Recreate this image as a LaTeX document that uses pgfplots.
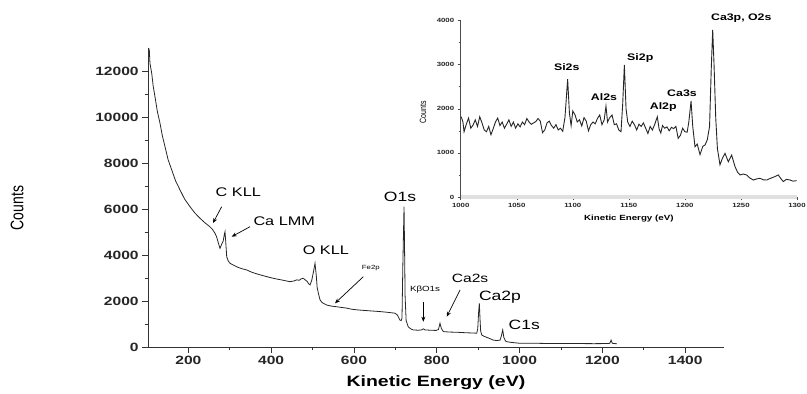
\documentclass[border=0pt]{standalone}
\usepackage{pgfplots}
\pgfplotsset{compat=1.18}
\usepackage{fontspec}
\setmainfont{Liberation Sans}[FakeStretch=1.3]
\newfontfamily\plainfont{Liberation Sans}
\usetikzlibrary{arrows.meta}

\pgfplotstableread{
x y
104 13000
105.7 12900
107.3 12330
111.5 11900
115 11350
119.4 10880
125 10250
131.5 9730
137 9200
143.6 8710
151 8150
159.8 7700
169 7230
179.8 6830
191 6430
204 6100
216 5820
228 5600
240 5400
252 5230
258 5120
264.4 4940
268 4800
272 4550
276.4 4290
280 4450
284 4600
287 4900
288.5 5010
290 4650
292.6 3930
296 3750
300.6 3640
310 3550
320 3460
330 3400
340.9 3350
352 3260
365 3180
377 3120
389 3060
400 3010
412 2960
424 2920
435 2880
445 2840
455 2870
462 2920
468 2900
472 2960
477.6 2990
482 2920
487 2850
490 2760
494 2700
498 2900
502 3250
505.9 3640
509 3100
511 2600
514 2340
518 2050
522 1950
526 1900
535 1820
545 1780
558 1750
570 1720
582.5 1690
595 1640
610 1610
625 1590
640 1570
663 1540
680 1510
699 1470
705 1390
711 1170
714 1150
716 1250
718 3500
720.9 6100
722 4600
723.5 2200
726 1150
731 880
737 790
743 740
755 730
763 740
767.5 790
772 740
785 730
798 720
804 760
807.8 1030
811 810
816 670
830 650
850 640
870 620
885 610
896.5 600
899 800
901 1500
902.8 1900
904.5 1200
906 700
908.6 520
915 460
925 390
936.6 300
945 280
953 300
956 480
959.3 740
962 420
966 260
969 230
980 200
1001 160
1030 165
1060 155
1100 150
1140 150
1180 145
1210 150
1218 160
1221 300
1224 160
1235 140
}\mainspec

\pgfplotstableread{
x y
1000.5 1820
1002 1700
1003 1480
1005 1650
1007 1790
1009 1560
1011 1630
1013 1750
1015 1600
1017 1820
1019 1680
1021 1520
1023 1480
1025 1600
1027 1410
1029 1550
1031 1700
1033 1790
1035 1620
1037 1700
1039 1560
1041 1650
1043 1750
1045 1600
1047 1700
1049 1560
1051 1660
1053 1590
1055 1700
1057 1640
1059 1780
1061 1700
1063 1650
1065 1680
1067 1710
1069 1780
1071 1720
1073 1460
1075 1520
1077 1680
1079 1720
1081 1620
1083 1560
1085 1640
1087 1520
1089 1560
1091 1490
1093 1800
1095.4 2670
1097 1900
1098.5 1620
1100 1950
1102 1860
1104 1700
1106 1750
1108 1610
1110 1800
1112 1720
1114 1500
1116 1640
1118 1700
1120 1660
1122 1780
1124 1860
1126 1640
1128 1750
1129.6 2060
1131 1700
1133 1800
1135 1860
1137 1640
1139 1660
1141 1520
1143 1480
1144.5 2100
1146 2994
1147.5 2000
1149 1700
1151 1600
1153 1720
1155 1640
1157 1520
1159 1650
1161 1600
1163 1680
1165 1560
1167 1440
1169 1600
1171 1520
1173 1640
1175.4 1820
1177 1540
1178.5 1450
1180 1620
1182 1560
1184 1590
1186 1500
1188 1580
1190 1550
1192 1600
1194 1330
1196 1400
1198 1560
1200 1480
1202 1470
1203.5 1700
1205.5 2177
1207 1600
1209 1140
1211 1200
1213.5 960
1216 1150
1218 1180
1220 1300
1222 1600
1223.5 2900
1224.8 3788
1226 3000
1227.5 1800
1229 1100
1231.3 730
1233.5 880
1235.8 990
1238.7 800
1241.7 950
1244.7 690
1247 560
1249.2 500
1252 520
1255.1 500
1258 430
1261 385
1264 410
1267 424
1270 390
1273 385
1276 420
1280 460
1283.3 500
1285.5 420
1287.8 350
1290.5 400
1293.8 385
1296.5 360
1299.7 370
}\insetspec

\begin{document}
\begin{tikzpicture}
\path[use as bounding box] (0pt,0pt) rectangle (807pt,394pt);
% main axis
\begin{axis}[
  at={(148.2pt,47pt)}, anchor=south west, scale only axis,
  width=575.5pt, height=299pt,
  xmin=103, xmax=1493, ymin=0, ymax=13000,
  axis lines=left,
  axis line style={-, line width=0.9pt, black!80},
  xtick={200,400,...,1400}, ytick={0,2000,...,12000},
  minor x tick num=1, minor y tick num=1,
  tick align=outside, major tick length=6pt, minor tick length=3.5pt,
  every tick/.style={line width=0.8pt, black!80},
  scaled y ticks=false,
  /pgf/number format/assume math mode=true,
  /pgf/number format/1000 sep={},
  tick label style={font=\bfseries\fontsize{12}{12}\selectfont, black!85},
  xlabel={Kinetic Energy (eV)},
  xlabel style={font=\bfseries\fontsize{15}{15}\selectfont, at={(axis description cs:0.5,0)}, anchor=center, yshift=-36pt},
  ylabel={\scalebox{1}[1.3]{Counts}},
  ylabel style={font=\plainfont\fontsize{14}{14}\selectfont, at={(axis description cs:-0.2276,0.465)}, anchor=center},
  clip=false,
]
\addplot[black!85, line width=0.8pt] table[x=x,y=y] {\mainspec};
\node[font=\fontsize{12.5}{12.5}\selectfont] at (axis cs:320.6,6717) {C KLL};
\draw[-{Stealth[length=5pt,width=4pt]}, line width=0.7pt] (axis cs:280.5,6100) -- (axis cs:259.5,5391);
\node[font=\fontsize{12.5}{12.5}\selectfont] at (axis cs:431.5,5448) {Ca LMM};
\draw[-{Stealth[length=5pt,width=4pt]}, line width=0.7pt] (axis cs:348.9,5230) -- (axis cs:304.7,4796);
\node[font=\fontsize{12.5}{12.5}\selectfont] at (axis cs:532,4217) {O KLL};
\node[font=\fontsize{6}{6}\selectfont] at (axis cs:640.7,3422) {Fe2p};
\draw[-{Stealth[length=5pt,width=4pt]}, line width=0.7pt] (axis cs:622.6,3057) -- (axis cs:554.2,1900);
\node[font=\fontsize{13.5}{13.5}\selectfont] at (axis cs:711.2,6535) {O1s};
\node[font=\fontsize{7.5}{7.5}\selectfont] at (axis cs:771.6,2478) {KβO1s};
\draw[-{Stealth[length=5pt,width=4pt]}, line width=0.7pt] (axis cs:767.5,1970) -- (axis cs:767.5,1100);
\node[font=\fontsize{12}{12}\selectfont] at (axis cs:880.3,2987) {Ca2s};
\draw[-{Stealth[length=5pt,width=4pt]}, line width=0.7pt] (axis cs:856.2,2478) -- (axis cs:824,1317);
\node[font=\fontsize{13.5}{13.5}\selectfont] at (axis cs:952.7,2187) {Ca2p};
\node[font=\fontsize{13.5}{13.5}\selectfont] at (axis cs:1011.2,957) {C1s};
\end{axis}
% inset
\begin{axis}[
  at={(460.7pt,197pt)}, anchor=south west, scale only axis,
  width=336.3pt, height=176.4pt,
  xmin=1000, xmax=1300, ymin=0, ymax=4000,
  axis lines=left,
  x axis line style={-, line width=4pt, black!12},
  y axis line style={-, line width=0.7pt, black!70},
  xtick={1000,1050,...,1300}, ytick={0,1000,...,4000},
  minor x tick num=1, minor y tick num=1,
  tick align=outside, major tick length=3pt, minor tick length=2pt,
  every tick/.style={line width=0.5pt, black!70},
  scaled y ticks=false, scaled x ticks=false,
  /pgf/number format/assume math mode=true,
  /pgf/number format/1000 sep={},
  tick label style={font=\bfseries\fontsize{6}{6}\selectfont, black!85},
  xlabel={Kinetic Energy (eV)},
  xlabel style={font=\bfseries\fontsize{7.5}{7.5}\selectfont, at={(axis description cs:0.5,0)}, anchor=center, yshift=-22pt},
  ylabel={\scalebox{1}[1.3]{Counts}},
  ylabel style={font=\plainfont\fontsize{7}{7}\selectfont, at={(axis description cs:-0.1121,0.48)}, anchor=center},
  clip=false,
]
\addplot[black!85, line width=0.9pt] table[x=x,y=y] {\insetspec};
\node[font=\bfseries\fontsize{9.5}{9.5}\selectfont] at (axis cs:1094.6,2955) {Si2s};
\node[font=\bfseries\fontsize{9.5}{9.5}\selectfont] at (axis cs:1127.8,2274) {Al2s};
\node[font=\bfseries\fontsize{9.5}{9.5}\selectfont] at (axis cs:1160.2,3145) {Si2p};
\node[font=\bfseries\fontsize{9.5}{9.5}\selectfont] at (axis cs:1180.7,2048) {Al2p};
\node[font=\bfseries\fontsize{9.5}{9.5}\selectfont] at (axis cs:1197.4,2342) {Ca3s};
\node[font=\bfseries\fontsize{9.5}{9.5}\selectfont] at (axis cs:1250.3,4063) {Ca3p, O2s};
\end{axis}
\end{tikzpicture}
\end{document}
